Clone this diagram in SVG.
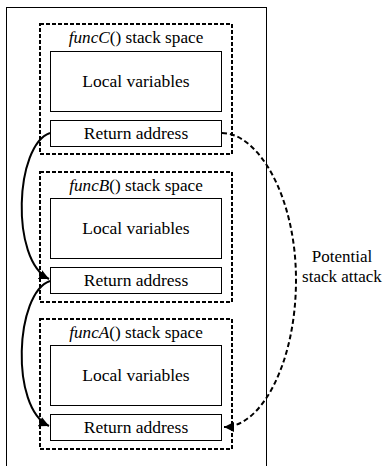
<svg xmlns="http://www.w3.org/2000/svg" width="383" height="466" viewBox="0 0 383 466">
  <style>
    text { font-family: 'Liberation Serif', 'Times New Roman', 'DejaVu Serif', serif; font-size: 17.5px; fill: #000; text-anchor: middle; }
    .head { font-size: 17.2px; }
    .note { font-size: 17px; }
    .frame { fill: #fff; stroke: #000; stroke-width: 1; }
    .space { fill: none; stroke: #000; stroke-width: 2; stroke-dasharray: 4 2; }
    .cell { fill: #fff; stroke: #000; stroke-width: 1; }
    .call { fill: none; stroke: #000; stroke-width: 2; }
    .attack { fill: none; stroke: #000; stroke-width: 2; stroke-dasharray: 5 3; }
  </style>
  <defs>
    <marker id="head" markerUnits="userSpaceOnUse" markerWidth="12" markerHeight="10" refX="10" refY="5" orient="auto">
      <path d="M0,0 L10,5 L0,10 Z" fill="#000"/>
    </marker>
  </defs>

  <rect width="383" height="466" fill="#fff"/>

  <!-- process stack frame -->
  <rect id="stack" class="frame" x="6.5" y="7.5" width="260" height="470"/>

  <!-- funcC frame -->
  <g id="funcC">
    <rect class="space" x="40" y="24" width="192" height="130"/>
    <text class="head" x="136" y="43"><tspan font-style="italic">funcC</tspan>() stack space</text>
    <rect class="cell" x="50.5" y="51.5" width="171" height="60"/>
    <text x="136" y="87">Local variables</text>
    <rect class="cell" x="50.5" y="120.5" width="171" height="26"/>
    <text x="136" y="139">Return address</text>
  </g>

  <!-- funcB frame -->
  <g id="funcB">
    <rect class="space" x="40" y="172" width="192" height="130"/>
    <text class="head" x="136" y="191"><tspan font-style="italic">funcB</tspan>() stack space</text>
    <rect class="cell" x="50.5" y="198.5" width="171" height="60"/>
    <text x="136" y="234">Local variables</text>
    <rect class="cell" x="50.5" y="267.5" width="171" height="26"/>
    <text x="136" y="286">Return address</text>
  </g>

  <!-- funcA frame -->
  <g id="funcA">
    <rect class="space" x="40" y="319" width="192" height="130"/>
    <text class="head" x="136" y="338"><tspan font-style="italic">funcA</tspan>() stack space</text>
    <rect class="cell" x="50.5" y="345.5" width="171" height="60"/>
    <text x="136" y="381">Local variables</text>
    <rect class="cell" x="50.5" y="414.5" width="171" height="26"/>
    <text x="136" y="433">Return address</text>
  </g>

  <!-- return-address links and the attack path -->
  <g id="connectors">
    <path class="call" d="M50,133 C15,145 10,260 49,279" marker-end="url(#head)"/>
    <path class="call" d="M50,281 C15,293 10,408 49,426" marker-end="url(#head)"/>
    <path class="attack" d="M222,133 C258,133 296,196 296,280 C296,362 262,427 224,427" marker-end="url(#head)"/>
  </g>

  <g id="attack-label">
    <text class="note" x="342" y="262">Potential</text>
    <text class="note" x="342" y="282">stack attack</text>
  </g>
</svg>
